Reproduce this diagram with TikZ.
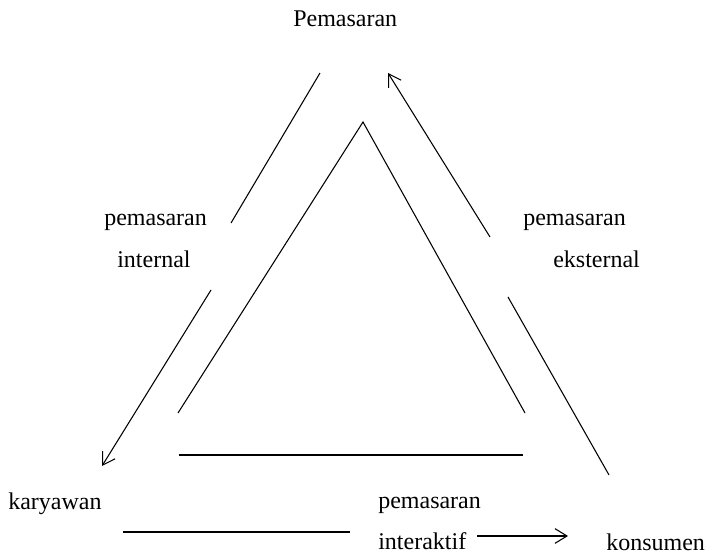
\documentclass[tikz,border=0pt]{standalone}
\usepackage{fontspec}
\setmainfont{Liberation Serif}
\usetikzlibrary{arrows.meta}
\begin{document}
\begin{tikzpicture}[x=0.75pt,y=-0.75pt,
  lbl/.style={inner sep=0pt,anchor=base west,font=\fontsize{18}{20}\selectfont},
  ln/.style={line width=0.8pt},
  arr/.style={ln,-{Straight Barb[length=9pt,width=11pt,line width=0.8pt]}}]
\useasboundingbox (0,0) rectangle (707,555);
% labels
\node[lbl] (pem) at (293,27) {Pemasaran};
\node[lbl] (pint1) at (104,226) {pemasaran};
\node[lbl] (pint2) at (117,268) {internal};
\node[lbl] (pext1) at (523,226) {pemasaran};
\node[lbl] (pext2) at (553,268) {eksternal};
\node[lbl] (kar) at (8,510) {karyawan};
\node[lbl] (pia1) at (378,509) {pemasaran};
\node[lbl] (pia2) at (378,550) {interaktif};
\node[lbl] (kon) at (606,551) {konsumen};
% coordinates
\coordinate (a1) at (320,73);  \coordinate (a2) at (231,223);
\coordinate (b1) at (490,237); \coordinate (b2) at (388,73);
\coordinate (c1) at (211,290); \coordinate (c2) at (102,466);
\coordinate (d1) at (508,297); \coordinate (d2) at (609,475);
\coordinate (t0) at (363,122); \coordinate (tl) at (178,413); \coordinate (tr) at (525,413);
\coordinate (u1) at (179,455); \coordinate (u2) at (523,455);
\coordinate (v1) at (123,532); \coordinate (v2) at (350,532);
\coordinate (w1) at (477,536); \coordinate (w2) at (568,536);
% connectors
\draw[ln] (a1) -- (a2);
\draw[arr] (b1) -- (b2);
\draw[arr] (c1) -- (c2);
\draw[ln] (d1) -- (d2);
\draw[ln] (tl) -- (t0) -- (tr);
\draw[ln] (u1) -- (u2);
\draw[ln] (v1) -- (v2);
\draw[arr] (w1) -- (w2);
\end{tikzpicture}
\end{document}
